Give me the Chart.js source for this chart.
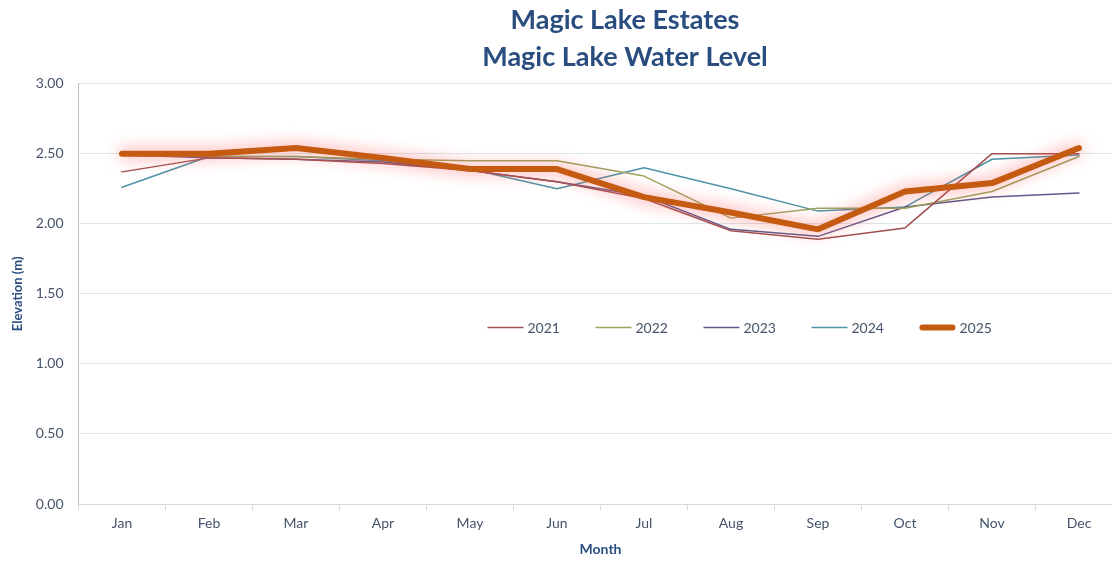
<!DOCTYPE html>
<html>
<head>
<meta charset="utf-8">
<script src="https://cdn.jsdelivr.net/npm/chart.js@4.4.0/dist/chart.umd.min.js"></script>
<style>
  body { margin: 0; overflow: hidden; background: #fff; }
  #wrap { position: absolute; left: 0; top: 0; width: 1250px; height: 561px; }
</style>
</head>
<body>
<div id="wrap"><canvas id="myChart"></canvas></div>
<script>
var months = ["Jan", "Feb", "Mar", "Apr", "May", "Jun", "Jul", "Aug", "Sep", "Oct", "Nov", "Dec"];
var years = ["2021", "2022", "2023", "2024", "2025"];
var level2021 = [2.37, 2.47, 2.46, 2.43, 2.38, 2.30, 2.18, 1.95, 1.89, 1.97, 2.50, 2.50];
var level2022 = [2.49, 2.48, 2.48, 2.46, 2.45, 2.45, 2.34, 2.04, 2.11, 2.11, 2.23, 2.48];
var level2023 = [2.49, 2.47, 2.46, 2.44, 2.38, 2.30, 2.20, 1.96, 1.91, 2.12, 2.19, 2.22];
var level2024 = [2.26, 2.48, 2.48, 2.45, 2.39, 2.25, 2.40, 2.25, 2.09, 2.12, 2.46, 2.49];
var level2025 = [2.50, 2.50, 2.54, 2.47, 2.39, 2.39, 2.19, 2.08, 1.96, 2.23, 2.29, 2.54];
var yTicks = [0, 0.5, 1, 1.5, 2, 2.5, 3];

var colors = ["#A0504F", "#9BA35E", "#5E5A8C", "#4F93A6", "#C55A11"];
var allLevels = [level2021, level2022, level2023, level2024, level2025];
var textColor = "#44546A";
var titleColor = "#2A4D80";

var datasets = [];
for (let i = 0; i < years.length; i++) {
    let last = i === years.length - 1;
    datasets.push({
        label: years[i],
        data: allLevels[i],
        borderColor: colors[i],
        backgroundColor: colors[i],
        borderWidth: last ? 6 : 1.5,
        borderJoinStyle: "round",
        borderCapStyle: "round",
        pointRadius: 0,
        tension: 0,
        order: last ? 0 : i + 1
    });
}

// soft red glow behind the 2025 line
var glowPlugin = {
    id: "glow",
    beforeDatasetDraw(chart, args) {
        if (args.index === 4) {
            chart.ctx.save();
            chart.ctx.shadowColor = "rgba(255,80,80,0.75)";
            chart.ctx.shadowBlur = 16;
        }
    },
    afterDatasetDraw(chart, args) {
        if (args.index === 4) chart.ctx.restore();
    }
};

// legend sits inside the plot area
var legendPlugin = {
    id: "inlineLegend",
    afterDatasetsDraw(chart) {
        const ctx = chart.ctx;
        const area = chart.chartArea;
        const y = chart.scales.y.getPixelForValue(1.26);
        const pitch = 108, lineLen = 36;
        let x = area.left + area.width * 0.635 - (pitch * 4 + 76) / 2;
        ctx.save();
        ctx.font = "14px Lato";
        ctx.textBaseline = "middle";
        ctx.fillStyle = textColor;
        chart.data.datasets.forEach(function (ds) {
            const thick = ds.borderWidth > 2;
            ctx.beginPath();
            ctx.strokeStyle = ds.borderColor;
            ctx.lineWidth = ds.borderWidth;
            ctx.lineCap = thick ? "round" : "butt";
            ctx.moveTo(x + (thick ? 3 : 0), y);
            ctx.lineTo(x + lineLen - (thick ? 3 : 0), y);
            ctx.stroke();
            ctx.fillText(ds.label, x + lineLen + 4, y + 1);
            x += pitch;
        });
        ctx.restore();
    }
};

new Chart("myChart", {
    type: "line",
    data: {
        labels: months,
        datasets: datasets
    },
    plugins: [glowPlugin, legendPlugin],
    options: {
        responsive: true,
        maintainAspectRatio: false,
        animation: false,
        layout: { padding: 0 },
        plugins: {
            legend: { display: false },
            tooltip: { enabled: false },
            title: {
                display: true,
                text: ["Magic Lake Estates", "Magic Lake Water Level"],
                color: titleColor,
                font: { family: "Lato", size: 27, weight: "bold", lineHeight: 1.4 },
                padding: { top: 1, bottom: 7 }
            }
        },
        scales: {
            x: {
                offset: true,
                grid: {
                    display: true,
                    drawOnChartArea: false,
                    drawTicks: true,
                    tickLength: 6,
                    offset: true,
                    color: "#D9D9D9"
                },
                border: { color: "#D9D9D9" },
                ticks: {
                    color: textColor,
                    font: { family: "Lato", size: 14 },
                    padding: 5,
                    maxRotation: 0
                },
                title: {
                    display: true,
                    text: "Month",
                    color: titleColor,
                    font: { family: "Lato", size: 14, weight: "bold" },
                    padding: { top: 0, bottom: 3 }
                },
                afterFit(scale) { scale.height = 57; }
            },
            y: {
                min: 0,
                max: 3,
                afterBuildTicks(scale) {
                    scale.ticks = yTicks.map(function (v) { return { value: v }; });
                },
                grid: { color: "#DCE6EA", drawTicks: false },
                border: { color: "#BFBFBF" },
                ticks: {
                    color: textColor,
                    font: { family: "Lato", size: 14 },
                    padding: 15,
                    callback: function (v) { return Number(v).toFixed(2); }
                },
                title: {
                    display: true,
                    text: "Elevation (m)",
                    color: titleColor,
                    font: { family: "Lato", size: 13, weight: "bold" },
                    padding: { top: 10, bottom: 0 }
                },
                afterFit(scale) { scale.width = 78.5; }
            },
            y2: {
                position: "right",
                display: true,
                grid: { display: false },
                border: { display: false },
                ticks: { display: false },
                afterFit(scale) { scale.width = 127.5; }
            }
        }
    }
});
</script>
</body>
</html>
